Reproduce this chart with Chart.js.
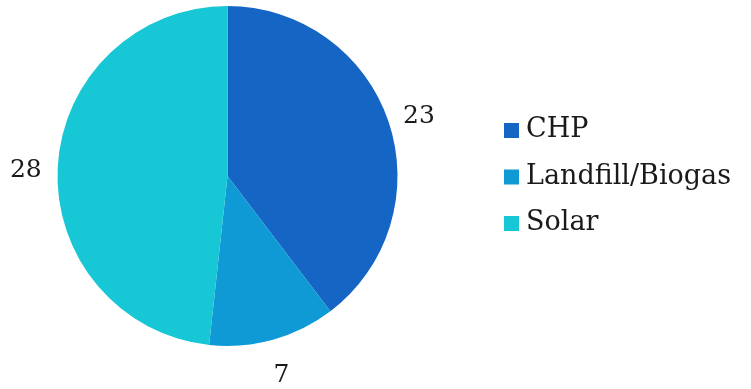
<!DOCTYPE html>
<html>
<head>
<meta charset="utf-8">
<script src="https://cdn.jsdelivr.net/npm/chart.js@4/dist/chart.umd.min.js"></script>
<style>
  html, body { margin: 0; padding: 0; background: #ffffff; }
  #wrap { width: 751px; height: 389px; }
</style>
</head>
<body>
<div id="wrap"><canvas id="sourceChart" width="751" height="389"></canvas></div>
<script>
// Installed capacity by source
const sources = ['CHP', 'Landfill/Biogas', 'Solar'];
const counts = [23, 7, 28];
const sliceColors = ['#1566c4', '#0f9ad6', '#17c7d6'];

const FONT = "'DejaVu Serif', serif";

// Numbers placed just outside each slice
const outsideLabels = {
    id: 'outsideLabels',
    afterDatasetsDraw(chart) {
        const ctx = chart.ctx;
        const meta = chart.getDatasetMeta(0);
        ctx.save();
        ctx.font = '25px ' + FONT;
        ctx.fillStyle = '#1a1a1a';
        ctx.textAlign = 'center';
        ctx.textBaseline = 'middle';
        meta.data.forEach(function (arc, i) {
            const p = arc.getProps(['x', 'y', 'startAngle', 'endAngle', 'outerRadius'], true);
            const mid = (p.startAngle + p.endAngle) / 2;
            const r = p.outerRadius + 32;
            ctx.fillText(String(counts[i]), p.x + Math.cos(mid) * r, p.y + Math.sin(mid) * r + 5);
        });
        ctx.restore();
    }
};

// Legend on the right side
const sideLegend = {
    id: 'sideLegend',
    afterDraw(chart) {
        const ctx = chart.ctx;
        ctx.save();
        ctx.font = '27px ' + FONT;
        ctx.textBaseline = 'middle';
        sources.forEach(function (name, i) {
            const y = 130 + i * 46.5;
            ctx.fillStyle = sliceColors[i];
            ctx.fillRect(504, y - 7, 15, 15);
            ctx.fillStyle = '#1a1a1a';
            ctx.fillText(name, 526, y);
        });
        ctx.restore();
    }
};

new Chart(document.getElementById('sourceChart'), {
    type: 'pie',
    data: {
        labels: sources,
        datasets: [{
            data: counts,
            backgroundColor: sliceColors,
            borderWidth: 0
        }]
    },
    options: {
        responsive: false,
        animation: false,
        layout: {
            padding: { left: 57, right: 353, top: 6, bottom: 43 }
        },
        plugins: {
            legend: { display: false },
            tooltip: { enabled: false }
        }
    },
    plugins: [outsideLabels, sideLegend]
});
</script>
</body>
</html>
